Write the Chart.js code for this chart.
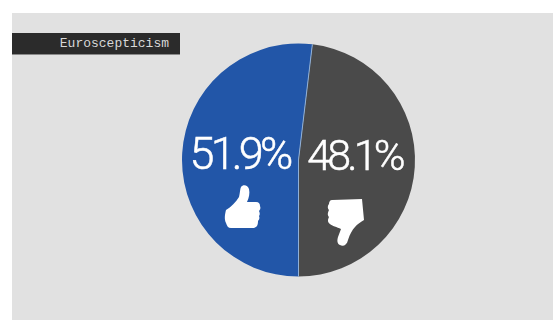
<!DOCTYPE html>
<html>
<head>
<meta charset="utf-8">
<title>Euroscepticism</title>
<script src="https://cdn.jsdelivr.net/npm/chart.js@4/dist/chart.umd.min.js"></script>
<style>
    html, body { margin: 0; padding: 0; background: #fff; overflow: hidden; }
    #wrap { position: relative; width: 553px; height: 320px; }
    #panel { position: absolute; left: 12px; top: 13px; right: 0; bottom: 0; background: #e1e1e1; }
    #tag {
        position: absolute; left: 12px; top: 33px; width: 168px; height: 22px;
        background: #2b2b2b; border-bottom: 1px solid #8a8a8a; color: #d8d8d8;
        font: 13px "Liberation Mono", monospace; line-height: 21px;
        text-align: right; padding-right: 11px; box-sizing: border-box;
    }
    canvas { position: absolute; left: 0; top: 0; }
</style>
</head>
<body>
<div id="wrap">
    <div id="panel"></div>
    <canvas id="pie" width="553" height="320"></canvas>
    <div id="tag">Euroscepticism</div>
</div>
<script>
const categories = ['Yes', 'No'];
const shares = [51.9, 48.1];
const sliceColors = ['#2256a8', '#4a4a4a'];

// hand icons, 0,0 is the top left of a 60 wide box
const thumbUp = new Path2D('M11 43 C9 39 10 34 11 30 C16 27 21 22 24 17 C25 13 25 9 26 7 C28 4 33 5 34 9 C35 13 34 18 32 22 L41 22 C44 22 45 24 45 26 C46 28 45 30 44 31 C45 33 45 35 44 36 C45 38 44 40 43 41 C43 45 42 47 39 48 L16 48 C13 48 12 46 11 43 Z');
const thumbDown = new Path2D('M12 10 L42 9 L44 30 C41 32 37 34 35 37 C32 40 30 44 28 50 C27 55 23 57 20 55 C17 54 17 50 18 47 L21 39 C17 37 12 36 10 34 C7 32 8 29 9 27 C7 25 8 22 9 20 C7 18 8 15 9 14 C9 12 10 10 12 10 Z');

// percentage text and hand icon sit on each slice
const sliceLabels = {
    id: 'sliceLabels',
    afterDatasetsDraw(chart) {
        const { ctx } = chart;
        const arcs = chart.getDatasetMeta(0).data;
        const { x, y, outerRadius } = arcs[0];

        // thin pale divider along the slice edges
        ctx.save();
        ctx.strokeStyle = '#8fb0d8';
        ctx.lineWidth = 1;
        [arcs[0].startAngle, arcs[0].endAngle].forEach(angle => {
            ctx.beginPath();
            ctx.moveTo(x, y);
            ctx.lineTo(x + Math.cos(angle) * outerRadius, y + Math.sin(angle) * outerRadius);
            ctx.stroke();
        });

        ctx.fillStyle = '#fff';
        ctx.strokeStyle = '#fff';
        ctx.lineWidth = 0.5;
        ctx.textAlign = 'center';
        ctx.textBaseline = 'alphabetic';

        ctx.font = '300 45px Roboto, "Liberation Sans", sans-serif';
        ctx.letterSpacing = '-3.8px';
        const leftText = shares[0].toFixed(1) + '%';
        ctx.fillText(leftText, x - 59, y + 8.5);
        ctx.strokeText(leftText, x - 59, y + 8.5);

        ctx.font = '300 43px Roboto, "Liberation Sans", sans-serif';
        ctx.letterSpacing = '-3.8px';
        const rightText = shares[1].toFixed(1) + '%';
        ctx.fillText(rightText, x + 56, y + 9.5);
        ctx.strokeText(rightText, x + 56, y + 9.5);

        ctx.save();
        ctx.translate(x - 83.5, y + 20);
        ctx.fill(thumbUp);
        ctx.restore();

        ctx.save();
        ctx.translate(x + 21.5, y + 30);
        ctx.fill(thumbDown);
        ctx.restore();
        ctx.restore();
    }
};

new Chart(document.getElementById('pie'), {
    type: 'pie',
    data: {
        labels: categories,
        datasets: [{
            data: shares,
            backgroundColor: sliceColors,
            borderWidth: 0
        }]
    },
    options: {
        responsive: false,
        animation: false,
        rotation: 180,
        layout: { padding: { left: 181.5, right: 137.5, top: 43.5, bottom: 43.5 } },
        plugins: {
            legend: { display: false },
            tooltip: { enabled: false }
        }
    },
    plugins: [sliceLabels]
});
</script>
</body>
</html>
